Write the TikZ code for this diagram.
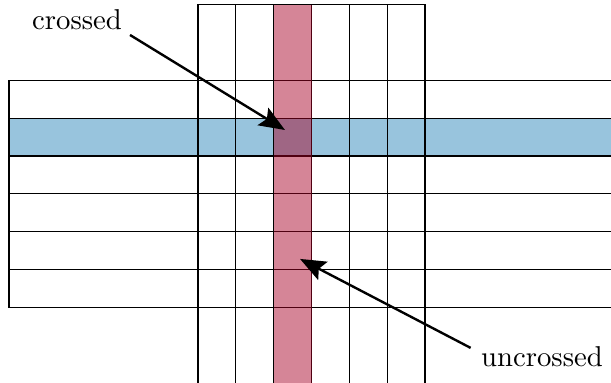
\documentclass[tikz,border=0pt]{standalone}
\usetikzlibrary{arrows.meta}
\definecolor{rowblue}{RGB}{152,196,221}
\definecolor{colred}{RGB}{167,1,37}
\tikzset{
  gridline/.style={draw=black, line width=0.45pt},
  pointer/.style={-{Stealth[length=3.4mm,width=2.7mm,inset=0.6mm]}, line width=0.9pt},
  lbl/.style={font=\fontsize{10.8}{13}\selectfont, inner sep=0pt, anchor=base}
}
\begin{document}
\begin{tikzpicture}
\useasboundingbox (0,0) rectangle (8.075,5.061);
\clip (0,0) rectangle (8.075,5.061);
% highlighted row (blue)
\fill[rowblue] (0.119,3.0) rectangle (8.3,3.5);
% horizontal strips
\foreach \j in {0,...,5} {
  \draw[gridline] (0.119,{1+0.5*\j}) rectangle (8.3,{1.5+0.5*\j});
}
% vertical strips
\foreach \i in {0,...,5} {
  \draw[gridline] ({2.617+0.5*\i},-0.3) rectangle ({3.117+0.5*\i},5.0);
}
% highlighted column (red, translucent)
\fill[colred, opacity=0.48] (3.617,-0.3) rectangle (4.117,5.0);
% labels
\node[lbl] (crossed) at (1.018,4.665) {crossed};
\node[lbl] (uncrossed) at (7.163,0.211) {uncrossed};
\coordinate (cstart) at (1.718,4.599);
\coordinate (ctip) at (3.766,3.343);
\coordinate (ustart) at (6.220,0.463);
\coordinate (utip) at (3.965,1.639);
\draw[pointer] (cstart) -- (ctip);
\draw[pointer] (ustart) -- (utip);
\end{tikzpicture}
\end{document}
